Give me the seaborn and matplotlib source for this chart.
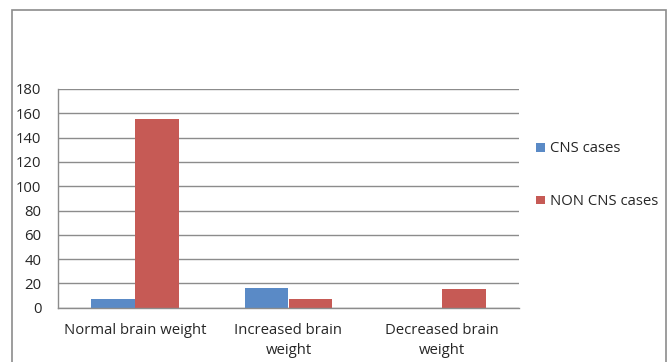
import matplotlib
matplotlib.use("Agg")
import matplotlib.pyplot as plt
from matplotlib.patches import Rectangle, Patch
import seaborn as sns
import pandas as pd

categories = ["Normal brain weight", "Increased brain\nweight", "Decreased brain\nweight"]
series_names = ["CNS cases", "NON CNS cases"]
cns_cases = [7, 16, 0]
non_cns_cases = [155, 7, 15]
y_ticks = [0, 20, 40, 60, 80, 100, 120, 140, 160, 180]
colors = ["#5A8AC6", "#C65A55"]

df = pd.DataFrame({
    "category": categories * 2,
    "series": [series_names[0]] * 3 + [series_names[1]] * 3,
    "value": cns_cases + non_cns_cases,
})

sns.set_style("white")
plt.rcParams["font.family"] = ["Open Sans", "DejaVu Sans"]
FS = 10.7
TXT = "#262626"

W, H = 669, 362
fig = plt.figure(figsize=(W / 100, H / 100), dpi=100)

# outer chart frame
fig.patches.append(Rectangle((12 / W, -0.1), (666 - 12) / W, 1.1 - 10 / H,
                             transform=fig.transFigure, fill=False,
                             edgecolor="#8c8c8c", linewidth=1.2))

ax = fig.add_axes([58 / W, 1 - 307.7 / H, (519 - 58) / W, (307.7 - 89) / H])
sns.barplot(data=df, x="category", y="value", hue="series", order=categories,
            hue_order=series_names, palette=colors, width=2 / 3.5,
            saturation=1, ax=ax, legend=False, linewidth=0)

ax.set_xlim(-0.5, 2.5)
ax.set_ylim(0, 180)
ax.set_yticks(y_ticks)
ax.set_yticklabels([str(v) for v in y_ticks], fontsize=FS, color=TXT)
ax.yaxis.grid(True, color="#8c8c8c", linewidth=1)
ax.set_axisbelow(True)
ax.set_xlabel("")
ax.set_ylabel("")

ax.set_xticks(range(len(categories)))
ax.set_xticklabels(categories, fontsize=FS, color=TXT, linespacing=1.5)
ax.set_xticks([-0.5, 0.5, 1.5, 2.5], minor=True)
ax.tick_params(axis="x", which="major", length=0, pad=11)
ax.tick_params(axis="x", which="minor", length=5, color="#8c8c8c", width=1)
ax.tick_params(axis="y", which="major", length=5, color="#8c8c8c", width=1, pad=7)

for side in ["top", "right"]:
    ax.spines[side].set_visible(False)
for side in ["left", "bottom"]:
    ax.spines[side].set_color("#8c8c8c")
    ax.spines[side].set_linewidth(1)

handles = [Patch(facecolor=c, edgecolor="none") for c in colors]
fig.legend(handles, series_names, loc="upper left",
           bbox_to_anchor=(523 / W, 1 - 128 / H), frameon=False,
           fontsize=FS, handlelength=0.55, handleheight=0.55,
           handletextpad=0.35, labelspacing=2.55, labelcolor=TXT)

fig.savefig("out.png", dpi=100, facecolor="white")
